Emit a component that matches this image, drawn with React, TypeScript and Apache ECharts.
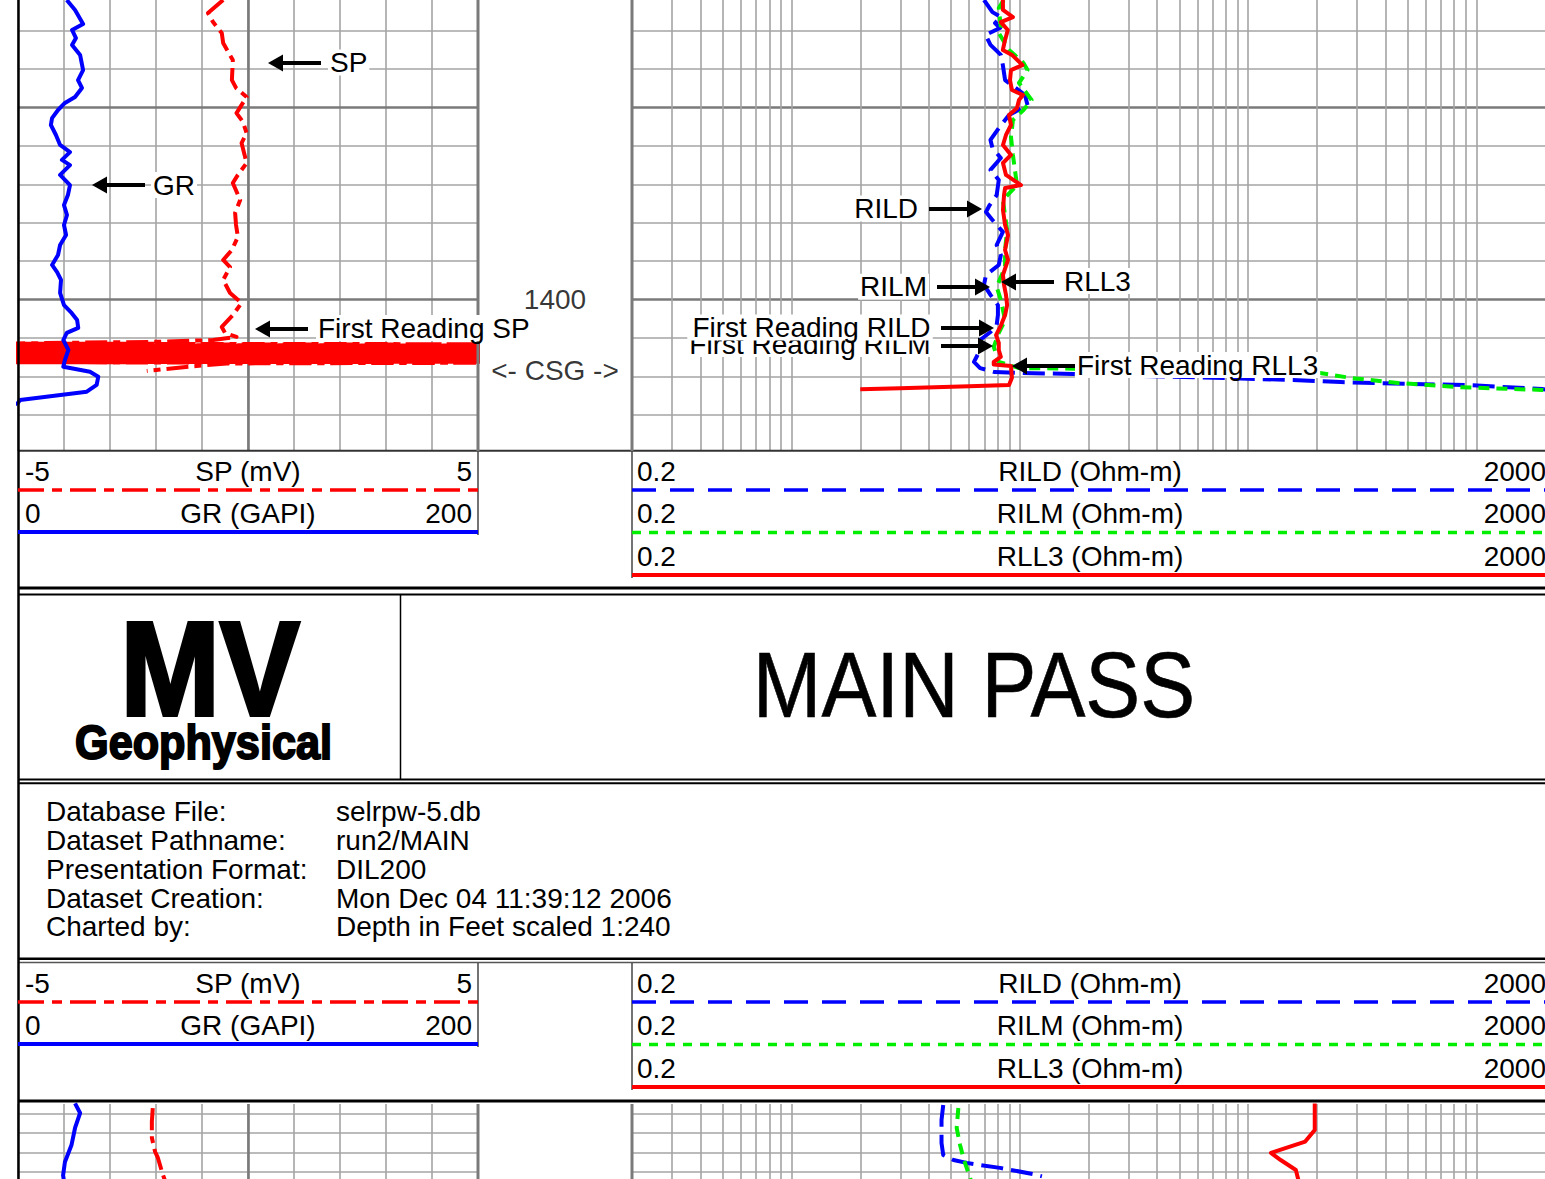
import React, { useEffect, useRef } from "react";
import * as echarts from "echarts";

// ---------------- DATA ----------------
const TOP_DEPTH_MIN = 1384.4;
const TOP_DEPTH_MAX = 1407.89;
const BOTTOM_DEPTH_MIN = 1419.48;
const BOTTOM_DEPTH_MAX = 1423.39;

const TOP_DEPTH_LINES = [1386, 1388, 1390, 1392, 1394, 1396, 1398, 1400, 1402, 1404, 1406];
const MAJOR_DEPTH_LINES = [1390, 1400];
const BOTTOM_DEPTH_LINES = [1420, 1421, 1422, 1423];
const LOG_GRID_VALUES = [
  0.3, 0.4, 0.5, 0.6, 0.7, 0.8, 0.9, 1, 2, 3, 4, 5, 6, 7, 8, 9, 10, 20, 30, 40, 50, 60, 70, 80, 90,
  100, 200, 300, 400, 500, 600, 700, 800, 900, 1000,
];
const DEPTH_LABELS = [1400];
const CASING_DEPTHS = [1403.72];
const CASING_TEXT = "<- CSG ->";

const LEFT_SCALES = [
  { name: "SP (mV)", min: -5, max: 5 },
  { name: "GR (GAPI)", min: 0, max: 200 },
];
const RIGHT_SCALES = [
  { name: "RILD (Ohm-m)", min: 0.2, max: 2000 },
  { name: "RILM (Ohm-m)", min: 0.2, max: 2000 },
  { name: "RLL3 (Ohm-m)", min: 0.2, max: 2000 },
];

// [depth ft, value]
const GR_TOP = [
  [1384.4, 21.2], [1384.92, 24.8], [1385.65, 28.3], [1385.96, 23.5], [1386.38, 25.2], [1386.74, 23.5],
  [1387.26, 27.0], [1388.05, 28.3], [1388.57, 26.1], [1388.98, 27.8], [1389.45, 24.8], [1389.76, 20.4],
  [1390.13, 17.4], [1390.55, 14.8], [1390.91, 14.3], [1391.43, 16.5], [1391.95, 18.3], [1392.32, 22.6],
  [1392.73, 19.1], [1393.0, 22.6], [1393.51, 18.3], [1394.04, 22.6], [1394.56, 21.7], [1395.08, 20.0],
  [1395.6, 21.3], [1396.12, 20.0], [1396.64, 20.9], [1397.16, 18.3], [1397.68, 17.4], [1398.2, 14.8],
  [1398.57, 17.0], [1398.98, 18.7], [1399.66, 18.3], [1400.29, 20.0], [1400.7, 23.3], [1401.07, 25.7],
  [1401.48, 26.2], [1401.74, 21.2], [1402.11, 19.7], [1402.63, 21.9], [1403.15, 20.4], [1403.5, 19.7],
  [1403.76, 31.3], [1404.02, 34.9], [1404.45, 34.2], [1404.8, 29.9], [1405.23, 0.9], [1405.39, 0],
  [1405.55, -3],
];
const SP_TOP = [
  [1384.4, -0.54], [1385.08, -0.87], [1385.55, -0.76], [1386.12, -0.57], [1386.64, -0.54], [1387.53, -0.33],
  [1388.57, -0.35], [1388.98, -0.26], [1389.45, -0.03], [1390.29, -0.25], [1390.75, -0.11], [1391.33, -0.03],
  [1391.85, -0.14], [1392.89, -0.03], [1393.51, -0.22], [1393.93, -0.33], [1394.82, -0.17], [1395.49, -0.28],
  [1396.12, -0.26], [1396.74, -0.22], [1397.42, -0.35], [1397.94, -0.54], [1398.31, -0.39], [1398.98, -0.54],
  [1399.66, -0.39], [1400.18, -0.14], [1400.81, -0.33], [1401.43, -0.57], [1401.74, -0.5], [1401.95, -0.25],
  [1402.11, -0.76], [1402.2, -1.9], [1402.3, -5.6], [1402.33, 5.6], [1402.36, -5.6], [1402.4, 5.6],
  [1402.43, -5.6], [1402.47, 5.6], [1402.5, -5.6], [1402.54, 5.6], [1402.57, -5.6], [1402.61, 5.6],
  [1402.64, -5.6], [1402.68, 5.6], [1402.71, -5.6], [1402.75, 5.6], [1402.78, -5.6], [1402.82, 5.6],
  [1402.85, -5.6], [1402.89, 5.6], [1402.92, -5.6], [1402.96, 5.6], [1402.99, -5.6], [1403.03, 5.6],
  [1403.06, -5.6], [1403.1, 5.6], [1403.13, -5.6], [1403.17, 5.6], [1403.2, -5.6], [1403.24, 5.6],
  [1403.27, -5.6], [1403.29, 5.6], [1403.33, -0.46], [1403.5, -1.3], [1403.72, -2.2],
];
const RILD_TOP = [
  [1384.4, 6.97], [1385.03, 7.59], [1385.29, 8.26], [1385.6, 7.79], [1385.86, 8.19], [1386.22, 7.08],
  [1386.74, 7.44], [1387.26, 8.26], [1387.79, 8.43], [1388.57, 8.62], [1389.35, 10.54], [1389.87, 10.81],
  [1390.39, 8.97], [1391.07, 8.09], [1391.69, 7.44], [1392.11, 7.59], [1392.63, 8.26], [1393.25, 7.44],
  [1393.78, 8.09], [1394.56, 7.92], [1395.08, 7.38], [1395.44, 7.11], [1395.86, 7.59], [1396.48, 8.43],
  [1397.16, 7.92], [1397.68, 8.26], [1398.2, 8.09], [1398.72, 7.11], [1399.24, 6.97], [1399.76, 7.44],
  [1400.29, 8.02], [1400.81, 8.02], [1401.33, 7.92], [1401.69, 7.44], [1402.11, 6.7], [1402.63, 6.7],
  [1403.25, 6.3], [1403.57, 6.7], [1403.78, 7.76], [1403.83, 10.33], [1403.88, 17.1], [1404.19, 157.4],
  [1404.3, 255], [1404.4, 528], [1404.45, 902], [1404.66, 1941], [1404.72, 2100],
];
const RILM_TOP = [
  [1384.4, 8.5], [1384.82, 8.09], [1385.81, 8.26], [1386.12, 8.09], [1387.0, 8.97], [1387.68, 10.38],
  [1388.05, 10.81], [1388.72, 9.92], [1389.61, 11.26], [1390.13, 10.38], [1390.65, 9.33], [1391.54, 9.15],
  [1392.47, 9.33], [1394.04, 9.72], [1394.82, 8.43], [1396.38, 8.8], [1397.42, 8.62], [1398.31, 8.62],
  [1399.35, 7.92], [1400.03, 8.26], [1401.07, 8.62], [1401.74, 8.09], [1402.47, 7.69], [1403.25, 8.09],
  [1403.57, 9.92], [1403.6, 17.1], [1403.83, 206.6], [1404.09, 285], [1404.35, 454], [1404.56, 823],
  [1404.71, 1941], [1404.75, 2100],
];
const RLL3_TOP = [
  [1384.4, 8.43], [1384.92, 8.44], [1385.29, 9.33], [1385.55, 8.26], [1385.96, 8.86], [1386.48, 8.62],
  [1387.0, 8.43], [1387.26, 9.24], [1387.79, 10.28], [1388.05, 9.15], [1388.57, 9.06], [1389.09, 9.24],
  [1389.35, 10.33], [1389.61, 9.92], [1390.03, 9.72], [1390.39, 8.97], [1390.91, 9.15], [1391.43, 8.7],
  [1391.95, 8.44], [1392.47, 9.15], [1392.89, 8.44], [1393.51, 8.7], [1394.04, 10.12], [1394.19, 8.62],
  [1394.56, 8.53], [1395.34, 8.44], [1396.12, 8.62], [1396.64, 8.88], [1397.42, 8.62], [1397.94, 8.88],
  [1398.72, 8.44], [1399.24, 8.53], [1399.76, 8.7], [1400.29, 8.8], [1400.81, 8.62], [1401.33, 8.28],
  [1401.85, 7.87], [1402.26, 8.09], [1402.63, 8.09], [1402.99, 8.26], [1403.25, 7.69], [1403.38, 7.69],
  [1403.46, 9.15], [1404.07, 9.24], [1404.45, 8.97], [1404.52, 6.0], [1404.62, 2.99], [1404.68, 2.0],
];

const GR_BOTTOM = [
  [1419.45, 24.8], [1419.95, 27.0], [1420.73, 24.8], [1421.6, 23.3], [1422.5, 20.4], [1423.2, 19.6], [1423.5, 20.0],
];
const SP_BOTTOM = [
  [1419.7, -2.07], [1420.4, -2.09], [1421.24, -2.09], [1421.97, -2.02], [1422.28, -1.96], [1423.17, -1.85], [1423.5, -1.8],
];
const RILD_BOTTOM = [
  [1419.53, 4.62], [1420.31, 4.54], [1421.51, 4.54], [1422.14, 4.62], [1422.4, 5.12], [1422.55, 5.85],
  [1422.66, 6.7], [1422.81, 8.19], [1423.13, 11.4], [1423.25, 12.5],
];
const RILM_BOTTOM = [
  [1419.69, 5.38], [1420.73, 5.29], [1421.6, 5.47], [1422.29, 5.66], [1423.07, 5.95], [1423.44, 6.1],
];
const RLL3_BOTTOM = [
  [1419.45, 196], [1420.83, 196], [1421.44, 178], [1422.03, 126], [1422.4, 139], [1422.92, 162], [1423.42, 166],
];

const INFO_LABELS = ["Database File:", "Dataset Pathname:", "Presentation Format:", "Dataset Creation:", "Charted by:"];
const INFO_VALUES = ["selrpw-5.db", "run2/MAIN", "DIL200", "Mon Dec 04 11:39:12 2006", "Depth in Feet scaled 1:240"];

// ---------------- STYLE / LAYOUT ----------------
const FONT = '"Liberation Sans", Arial, Helvetica, sans-serif';
const RED = "#ff0000";
const BLUE = "#0000ff";
const GREEN = "#00ee00";
const MINOR = { color: "#a4a4a4", width: 1.6, type: "solid" };
const MAJOR = { color: "#7a7a7a", width: 2.6, type: "solid" };

const W = 1545;
const H = 1179;
const LEFT_X = 18, LEFT_W = 460;
const RIGHT_X = 632, RIGHT_W = 913;
const TOP_Y = 0, TOP_H = 451;
const BOT_Y = 1104, BOT_H = 75;

const LEFT_STYLES = [
  { color: RED, width: 3.5, dash: [26, 8, 10, 8], curveDash: [22, 6, 7, 6] },
  { color: BLUE, width: 4, dash: null, curveDash: null },
];
const RIGHT_STYLES = [
  { color: BLUE, width: 3.5, dash: [24, 14], curveDash: [22, 8] },
  { color: GREEN, width: 3.5, dash: [9, 8], curveDash: [11, 7] },
  { color: RED, width: 4, dash: null, curveDash: null },
];

function curve(data, xi, yi, st, z) {
  return {
    type: "line",
    xAxisIndex: xi,
    yAxisIndex: yi,
    data: data.map(([d, v]) => [v, d]),
    showSymbol: false,
    symbol: "none",
    clip: true,
    silent: true,
    z,
    lineStyle: { color: st.color, width: 4, type: st.curveDash || "solid", join: "round" },
  };
}

function gridSeries(xi, yi, depthLines, xLines, xMajor) {
  return {
    type: "line",
    xAxisIndex: xi,
    yAxisIndex: yi,
    data: [],
    z: 1,
    silent: true,
    markLine: {
      silent: true,
      symbol: ["none", "none"],
      label: { show: false },
      emphasis: { disabled: true },
      animation: false,
      data: [
        ...depthLines.map((d) => ({ yAxis: d, lineStyle: MAJOR_DEPTH_LINES.includes(d) ? MAJOR : MINOR })),
        ...xLines.map((v) => ({ xAxis: v, lineStyle: xMajor.includes(v) ? MAJOR : MINOR })),
      ],
    },
  };
}

function line(x1, y1, x2, y2, stroke, lineWidth, z = 50, lineDash = null) {
  return { type: "line", z, silent: true, shape: { x1, y1, x2, y2 }, style: { stroke, lineWidth, lineDash } };
}

function text(t, x, y, align, size = 28, z = 60, extra = {}) {
  return {
    type: "text",
    x,
    y,
    z,
    silent: true,
    style: { text: t, fill: "#000", fontSize: size, fontFamily: FONT, align, verticalAlign: "middle", ...extra },
  };
}

function label(t, x, y, align, z = 100) {
  return text(t, x, y, align, 28, z, { backgroundColor: "#fff", padding: [0, 2], lineHeight: 26 });
}

function arrow(tipX, y, tailX, z = 101) {
  const dir = tailX > tipX ? 1 : -1;
  const baseX = tipX + dir * 15;
  return [
    line(baseX, y, tailX, y, "#000", 4, z),
    { type: "polygon", z, silent: true, shape: { points: [[tipX, y], [baseX, y - 8.5], [baseX, y + 8.5]] }, style: { fill: "#000" } },
  ];
}

function header(oy) {
  const els = [];
  LEFT_SCALES.forEach((s, i) => {
    const ty = 471 + 42 * i + oy;
    els.push(text(String(s.min), 25, ty, "left"));
    els.push(text(s.name, 248, ty, "center"));
    els.push(text(String(s.max), 472, ty, "right"));
    const st = LEFT_STYLES[i];
    els.push(line(LEFT_X, 490 + 42 * i + oy, LEFT_X + LEFT_W, 490 + 42 * i + oy, st.color, st.width, 60, st.dash));
  });
  RIGHT_SCALES.forEach((s, i) => {
    const ty = 471 + 42.5 * i + oy;
    els.push(text(String(s.min), 637, ty, "left"));
    els.push(text(s.name, 1090, ty, "center"));
    els.push(text(String(s.max), 1546, ty, "right"));
    const st = RIGHT_STYLES[i];
    const ly = 490 + 42.5 * i + oy;
    els.push(line(RIGHT_X, ly, W, ly, st.color, st.width, 60, st.dash));
  });
  els.push(line(478, 451 + oy, 478, 535 + oy, "#444", 1.5));
  els.push(line(632, 451 + oy, 632, 578 + oy, "#444", 1.5));
  return els;
}

function buildOption() {
  const graphics = [
    // frame
    line(18.5, 0, 18.5, H, "#000", 2.5, 55),
    line(478, TOP_Y, 478, TOP_H, "#7a7a7a", 3, 55),
    line(632, TOP_Y, 632, TOP_H, "#7a7a7a", 3, 55),
    line(478, BOT_Y, 478, H, "#7a7a7a", 3, 55),
    line(632, BOT_Y, 632, H, "#7a7a7a", 3, 55),
    line(18, 450.8, W, 450.8, "#333", 2),
    line(18, 588, W, 588, "#000", 3),
    line(18, 594.5, W, 594.5, "#000", 2),
    line(400.5, 594, 400.5, 780, "#000", 1.5),
    line(18, 779.5, W, 779.5, "#000", 2),
    line(18, 783.3, W, 783.3, "#000", 2),
    line(18, 958.7, W, 958.7, "#000", 2.5),
    line(18, 962.5, W, 962.5, "#555", 1.5),
    line(18, 1101, W, 1101, "#000", 3),
    ...header(0),
    ...header(512),
    // logo
    { type: "text", x: 210, y: 668.5, z: 60, scaleX: 0.89, silent: true,
      style: { text: "MV", fill: "#000", stroke: "#000", lineWidth: 4, fontSize: 134, fontWeight: "bold", fontFamily: FONT, align: "center", verticalAlign: "middle" } },
    { type: "text", x: 203.5, y: 742.5, z: 60, scaleX: 0.9, silent: true,
      style: { text: "Geophysical", fill: "#000", stroke: "#000", lineWidth: 2, fontSize: 48, fontWeight: "bold", fontFamily: FONT, align: "center", verticalAlign: "middle" } },
    { type: "text", x: 974, y: 685, z: 60, scaleX: 0.895, silent: true,
      style: { text: "MAIN PASS", fill: "#000", stroke: "#000", lineWidth: 0.6, fontSize: 92, fontFamily: FONT, align: "center", verticalAlign: "middle" } },
    // info
    ...INFO_LABELS.map((t, i) => text(t, 46, 811.7 + 28.8 * i, "left")),
    ...INFO_VALUES.map((t, i) => text(t, 336, 811.7 + 28.8 * i, "left")),
    // annotations
    label("SP", 328, 62.5, "left"),
    ...arrow(268, 63, 321),
    label("GR", 151, 185, "left"),
    ...arrow(92, 185, 145),
    label("First Reading SP", 316, 328, "left"),
    ...arrow(255, 329, 308),
    label("RILD", 920, 208.5, "right"),
    ...arrow(982, 209, 929),
    label("RILM", 929, 286.7, "right"),
    ...arrow(990, 287, 937),
    label("RLL3", 1062, 281, "left"),
    ...arrow(1001, 282, 1054),
    label("First Reading RILM", 932.5, 344, "right", 100),
    ...arrow(993, 346, 941),
    label("First Reading RILD", 932.5, 327.5, "right", 102),
    ...arrow(994, 328, 941, 103),
    label("First Reading RLL3", 1075, 365, "left"),
    ...arrow(1012, 366, 1075),
  ];

  const hiddenAxis = { show: false, axisLine: { show: false }, axisTick: { show: false }, axisLabel: { show: false }, splitLine: { show: false } };
  const grAxis = (gi) => ({
    gridIndex: gi, type: "value", min: 0, max: 200, interval: 20, show: true,
    axisLine: { show: false }, axisTick: { show: false }, axisLabel: { show: false },
    splitLine: { show: true, lineStyle: MINOR },
  });

  return {
    animation: false,
    backgroundColor: "#fff",
    textStyle: { fontFamily: FONT },
    grid: [
      { left: LEFT_X, top: TOP_Y, width: LEFT_W, height: TOP_H, containLabel: false, outerBoundsMode: "none" },
      { left: RIGHT_X, top: TOP_Y, width: RIGHT_W, height: TOP_H, containLabel: false, outerBoundsMode: "none" },
      { left: 478, top: TOP_Y, width: 154, height: TOP_H, containLabel: false, outerBoundsMode: "none" },
      { left: LEFT_X, top: BOT_Y, width: LEFT_W, height: BOT_H, containLabel: false, outerBoundsMode: "none" },
      { left: RIGHT_X, top: BOT_Y, width: RIGHT_W, height: BOT_H, containLabel: false, outerBoundsMode: "none" },
    ],
    xAxis: [
      grAxis(0),
      { gridIndex: 0, type: "value", min: LEFT_SCALES[0].min, max: LEFT_SCALES[0].max, ...hiddenAxis },
      { gridIndex: 1, type: "log", logBase: 10, min: RIGHT_SCALES[0].min, max: RIGHT_SCALES[0].max, ...hiddenAxis },
      { gridIndex: 2, type: "value", min: 0, max: 1, ...hiddenAxis },
      grAxis(3),
      { gridIndex: 3, type: "value", min: LEFT_SCALES[0].min, max: LEFT_SCALES[0].max, ...hiddenAxis },
      { gridIndex: 4, type: "log", logBase: 10, min: RIGHT_SCALES[0].min, max: RIGHT_SCALES[0].max, ...hiddenAxis },
    ],
    yAxis: [
      { gridIndex: 0, type: "value", inverse: true, min: TOP_DEPTH_MIN, max: TOP_DEPTH_MAX, ...hiddenAxis },
      { gridIndex: 1, type: "value", inverse: true, min: TOP_DEPTH_MIN, max: TOP_DEPTH_MAX, ...hiddenAxis },
      { gridIndex: 2, type: "value", inverse: true, min: TOP_DEPTH_MIN, max: TOP_DEPTH_MAX, ...hiddenAxis },
      { gridIndex: 3, type: "value", inverse: true, min: BOTTOM_DEPTH_MIN, max: BOTTOM_DEPTH_MAX, ...hiddenAxis },
      { gridIndex: 4, type: "value", inverse: true, min: BOTTOM_DEPTH_MIN, max: BOTTOM_DEPTH_MAX, ...hiddenAxis },
    ],
    series: [
      gridSeries(0, 0, TOP_DEPTH_LINES, [100], [100]),
      gridSeries(2, 1, TOP_DEPTH_LINES, LOG_GRID_VALUES, []),
      gridSeries(4, 3, BOTTOM_DEPTH_LINES, [100], [100]),
      gridSeries(6, 4, BOTTOM_DEPTH_LINES, LOG_GRID_VALUES, []),
      curve(SP_TOP, 1, 0, LEFT_STYLES[0], 10),
      curve(GR_TOP, 0, 0, LEFT_STYLES[1], 11),
      curve(RILD_TOP, 2, 1, RIGHT_STYLES[0], 10),
      curve(RILM_TOP, 2, 1, RIGHT_STYLES[1], 11),
      curve(RLL3_TOP, 2, 1, RIGHT_STYLES[2], 12),
      curve(SP_BOTTOM, 5, 3, LEFT_STYLES[0], 10),
      curve(GR_BOTTOM, 4, 3, LEFT_STYLES[1], 11),
      curve(RILD_BOTTOM, 6, 4, RIGHT_STYLES[0], 10),
      curve(RILM_BOTTOM, 6, 4, RIGHT_STYLES[1], 11),
      curve(RLL3_BOTTOM, 6, 4, RIGHT_STYLES[2], 12),
      {
        type: "scatter",
        xAxisIndex: 3,
        yAxisIndex: 2,
        silent: true,
        symbolSize: 1,
        itemStyle: { color: "rgba(0,0,0,0)" },
        data: [
          ...DEPTH_LABELS.map((d) => ({ value: [0.5, d], name: String(d) })),
          ...CASING_DEPTHS.map((d) => ({ value: [0.5, d], name: CASING_TEXT })),
        ],
        label: {
          show: true,
          position: "inside",
          formatter: (p) => p.name,
          fontSize: 28,
          fontFamily: FONT,
          color: "#000",
        },
        z: 20,
      },
    ],
    graphic: graphics,
  };
}

export default function App() {
  const ref = useRef(null);
  useEffect(() => {
    if (!ref.current) return;
    const chart = echarts.init(ref.current, undefined, { renderer: "svg" });
    chart.setOption(buildOption());
    return () => chart.dispose();
  }, []);
  return (
    <div
      ref={ref}
      style={{ position: "absolute", left: 0, top: 0, width: W, height: H, background: "#fff" }}
    />
  );
}
